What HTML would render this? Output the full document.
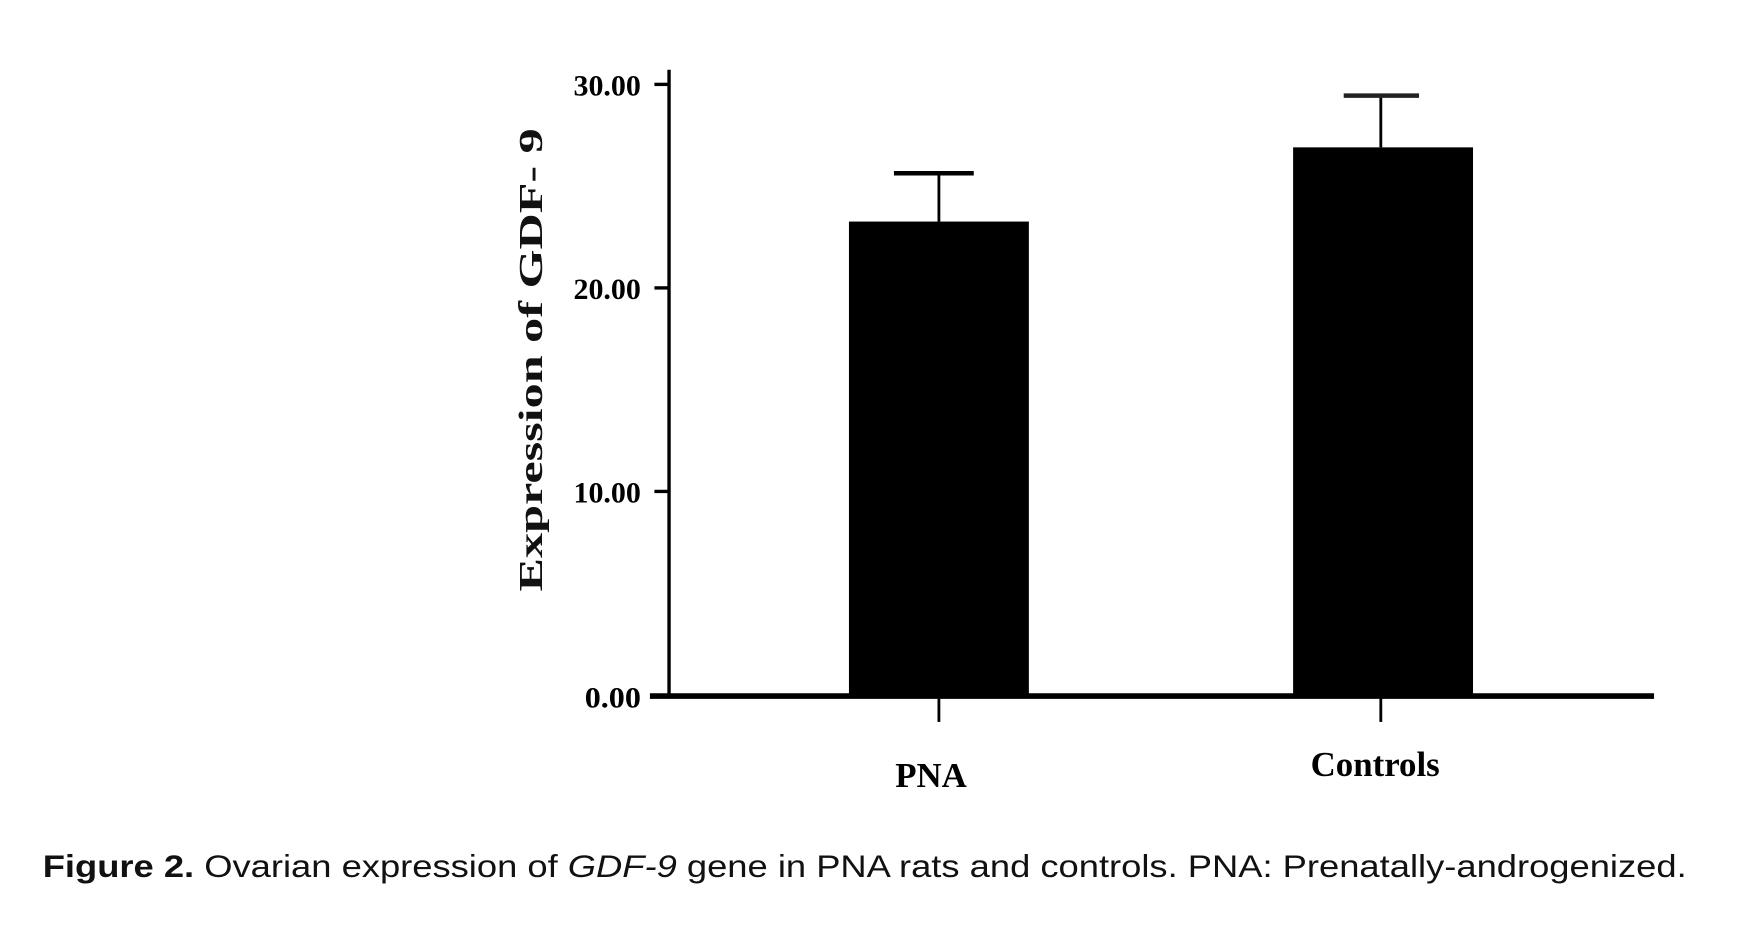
<!DOCTYPE html>
<html><head><meta charset="utf-8"><style>
html,body{margin:0;padding:0;background:#fff;}
svg{display:block;}
</style></head><body>
<svg width="1762" height="948" viewBox="0 0 1567 843" xmlns="http://www.w3.org/2000/svg">
<rect width="1567" height="843" fill="#fff"/>
<line x1="595" y1="62" x2="595" y2="621" stroke="#000" stroke-width="3"/>
<line x1="578" y1="619" x2="1471" y2="619" stroke="#000" stroke-width="5"/>
<g stroke="#000" stroke-width="3">
<line x1="582" y1="75" x2="595" y2="75"/>
<line x1="582" y1="256" x2="595" y2="256"/>
<line x1="582" y1="437" x2="595" y2="437"/>
<line x1="835" y1="619" x2="835" y2="642" stroke-width="2.5"/>
<line x1="1228" y1="619" x2="1228" y2="642" stroke-width="2.5"/>
</g>
<g font-family="Liberation Serif, serif" font-weight="bold" font-size="26" text-anchor="end" fill="#000">
<text x="570" y="85" textLength="60" lengthAdjust="spacingAndGlyphs">30.00</text>
<text x="570" y="266" textLength="60" lengthAdjust="spacingAndGlyphs">20.00</text>
<text x="570" y="447" textLength="60" lengthAdjust="spacingAndGlyphs">10.00</text>
<text x="570" y="629" textLength="50" lengthAdjust="spacingAndGlyphs">0.00</text>
</g>
<text transform="translate(482,320) rotate(-90)" font-family="Liberation Serif, serif" font-weight="bold" font-size="30" text-anchor="middle" fill="#111" textLength="412" lengthAdjust="spacingAndGlyphs">Expression of GDF- 9</text>
<rect x="755" y="197" width="160" height="422" fill="#000"/>
<rect x="1150" y="131" width="160" height="488" fill="#000"/>
<g stroke="#000" stroke-width="2.5">
<line x1="835" y1="154" x2="835" y2="197"/>
<line x1="1228" y1="85" x2="1228" y2="131"/>
</g>
<line x1="795" y1="154" x2="866" y2="154" stroke="#000" stroke-width="4"/>
<line x1="1195" y1="85" x2="1262" y2="85" stroke="#222" stroke-width="4"/>
<g font-family="Liberation Serif, serif" font-weight="bold" font-size="31" text-anchor="middle" fill="#000">
<text x="828" y="700">PNA</text>
<text x="1223" y="690">Controls</text>
</g>
<text x="38" y="780" font-family="Liberation Sans, sans-serif" font-size="28" fill="#111" textLength="1462" lengthAdjust="spacingAndGlyphs"><tspan font-weight="bold">Figure 2.</tspan> Ovarian expression of <tspan font-style="italic">GDF-9</tspan> gene in PNA rats and controls. PNA: Prenatally-androgenized.</text>
</svg>
</body></html>
